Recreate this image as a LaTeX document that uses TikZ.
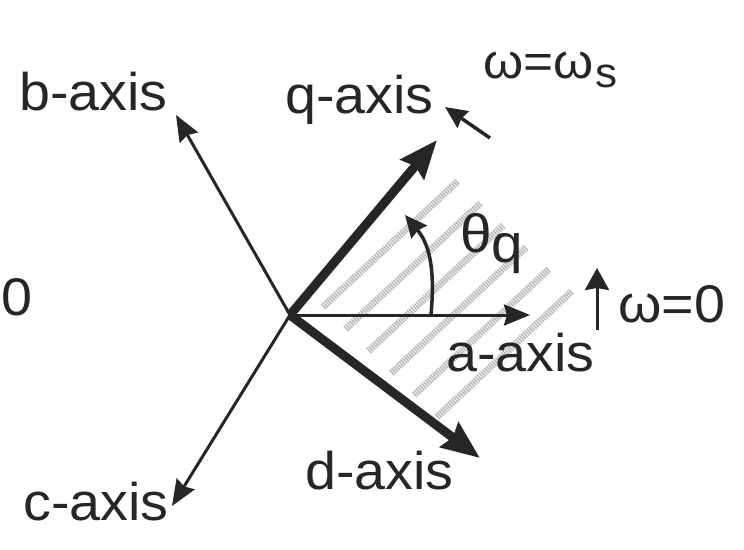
\documentclass[tikz,border=0pt]{standalone}
\usepackage{fontspec}
\setmainfont{Liberation Sans}[FakeStretch=1.05]
\usetikzlibrary{arrows.meta}
\begin{document}
\begin{tikzpicture}[x=1pt,y=-1pt,
  ink/.style={draw=black!85},
  thinax/.style={ink, line width=3pt, -{Stealth[length=26pt,width=21pt,inset=3pt]}},
  thickax/.style={ink, line width=9pt, -{Stealth[length=38pt,width=30pt,inset=4pt]}},
  smallarr/.style={ink, line width=3.5pt, -{Stealth[length=22pt,width=20pt,inset=2pt]}},
  band/.style={draw=gray!55, line width=7pt, dash pattern=on 1.5pt off 1pt},
  lbl/.style={inner sep=0pt, anchor=base west, text=black!85, font=\fontsize{53}{60}\selectfont}]
\useasboundingbox (0,0) rectangle (744,549);
% hatched region
\foreach \i in {0,...,5}
  \draw[band] ({323+22.8*\i},{307+22*\i}) -- ++(135,-126);
% coordinates
\coordinate (O) at (290,315);
\coordinate (btip) at (176,115);
\coordinate (ctip) at (172,506);
\coordinate (atip) at (530,315);
\coordinate (qtip) at (437,140);
\coordinate (dtip) at (480,458);
\coordinate (ws1) at (490,138);
\coordinate (ws2) at (445,107);
\coordinate (w01) at (597,330);
\coordinate (w02) at (597,268);
\coordinate (th1) at (431,315);
\coordinate (th2) at (405,215);
% axes
\draw[thinax] (O) -- (btip);
\draw[thinax] (O) -- (ctip);
\draw[thinax] (O) -- (atip);
\draw[thickax] (O) -- (qtip);
\draw[thickax] (O) -- (dtip);
% angle arc
\draw[smallarr] (th1) .. controls (435,270) and (430,245) .. (th2);
% rotation arrows
\draw[smallarr] (ws1) -- (ws2);
\draw[ink, line width=3pt, -{Stealth[length=22pt,width=24pt,inset=2pt]}] (w01) -- (w02);
% labels
\node[lbl] (bl) at (19,110) {b-axis};
\node[lbl] (ql) at (285,113) {q-axis};
\node[lbl] (al) at (446,371) {a-axis};
\node[lbl] (dl) at (305,489) {d-axis};
\node[lbl] (cl) at (23,520) {c-axis};
\node[lbl] (zl) at (1,315) {0};
\node[lbl] (w0l) at (618,322) {ω=0};
\node[lbl, font=\fontsize{49}{56}\selectfont] (wsl) at (483,78) {ω=ω\kern2pt\raisebox{-9pt}{\fontsize{42}{42}\selectfont s}};
\node[lbl, font=\fontsize{54}{60}\selectfont] (thl) at (460,252) {θ\raisebox{-10pt}{q}};
\end{tikzpicture}
\end{document}
